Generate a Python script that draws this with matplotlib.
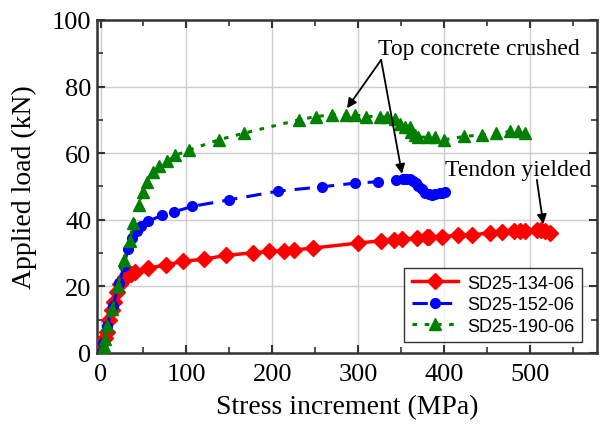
import matplotlib
matplotlib.use("Agg")
import matplotlib.pyplot as plt
from matplotlib.ticker import MultipleLocator

# Data
red_x = [0, 2, 5, 7, 10, 13, 15.5, 19.4, 23, 26, 29, 35, 40.7, 55.5, 76, 96, 121, 146, 178, 196, 214, 225, 247,
         300, 327, 342, 351, 369, 380, 383, 398, 416, 433, 453, 468, 481, 488, 494, 508, 513, 518, 523]
red_y = [0, 3, 4.5, 6.2, 10, 13, 15.2, 18.2, 20.7, 21.8, 22.7, 23.7, 24.4, 25.5, 26.4, 27.5, 28.2, 29.3, 30.1, 30.5, 30.7, 30.9, 31.5,
         33, 33.7, 34, 34.1, 34.5, 34.7, 34.8, 34.9, 35.4, 35.4, 36.1, 36.3, 36.5, 36.6, 36.7, 36.9, 36.8, 36.6, 36.0]

blue_x = [0, 3, 7.8, 14, 22, 27, 32, 37, 42.6, 47, 55, 72, 86, 106.6, 150, 207, 258, 296.5, 323, 344, 352, 356, 360,
          364, 367, 370, 374, 378, 382, 386, 390, 395, 398, 401]
blue_y = [0, 3, 8.2, 14, 21, 26, 31.2, 34.5, 36.7, 38.2, 39.5, 41.4, 42.4, 44, 46, 48.6, 49.9, 51, 51.4, 51.9, 52.2, 52.3, 52.1,
          51.7, 51, 50.2, 49.2, 48, 47.6, 47.5, 47.7, 48, 48.1, 48.2]

green_x = [0, 2, 3.9, 5, 8, 13.6, 20, 27, 34, 38, 44.6, 49, 54, 61, 68, 77, 87, 103.5, 137.6, 167, 231, 251, 269, 286, 296,
           309, 325, 334, 343, 349, 355, 360, 362, 366, 370, 381, 390, 400, 423, 444, 461, 477, 486, 494]
green_y = [0, 0.7, 2, 4.2, 8, 13.2, 20, 28, 33.7, 39, 44.4, 48.4, 51.2, 54.3, 56, 57.5, 59.3, 61, 64, 66, 70, 71, 71.5, 71.5, 71.5,
           71, 71, 70.8, 70.3, 68.8, 68, 67.8, 66.3, 65.5, 64.8, 64.8, 64.8, 64, 65, 65.5, 66, 66.5, 66.5, 66]

labels = ["SD25-134-06", "SD25-152-06", "SD25-190-06"]

serif = "Liberation Serif"
sans = "Liberation Sans"

fig = plt.figure(figsize=(6.03, 4.27), dpi=100)
ax = fig.add_axes([0.161, 0.171, 0.829, 0.780])

ax.plot(red_x, red_y, color="red", lw=2.5, ls="-", marker="D", ms=8, mec="red", label=labels[0], zorder=3)
ax.plot(blue_x, blue_y, color="blue", lw=2.2, ls=(0, (5, 3)), marker="o", ms=7, mec="blue", label=labels[1], zorder=3)
ax.plot(green_x, green_y, color="green", lw=2.2, ls=(0, (1.5, 2.5)), marker="^", ms=8.5, mec="green", label=labels[2], zorder=3)

ax.set_xlim(-4, 578)
ax.set_ylim(0, 100)
ax.xaxis.set_major_locator(MultipleLocator(100))
ax.xaxis.set_minor_locator(MultipleLocator(50))
ax.yaxis.set_major_locator(MultipleLocator(20))
ax.yaxis.set_minor_locator(MultipleLocator(10))
ax.grid(True, which="major", color="#cccccc", lw=1.0, zorder=0)
ax.set_axisbelow(True)

ax.tick_params(which="both", direction="in", top=True, right=True, color="#333333")
ax.tick_params(which="major", length=6, width=1.5, labelsize=19)
ax.tick_params(axis="x", which="major", pad=7)
ax.tick_params(axis="y", which="major", pad=4)
ax.tick_params(which="minor", length=4, width=1.2)
for lab in ax.get_xticklabels() + ax.get_yticklabels():
    lab.set_fontfamily(serif)
for sp in ax.spines.values():
    sp.set_linewidth(1.8)
    sp.set_color("#333333")

ax.set_xlabel("Stress increment (MPa)", fontsize=20, family=serif, labelpad=7)
ax.set_ylabel("Applied load (kN)", fontsize=20, family=serif, labelpad=11)

leg = ax.legend(loc="lower right", bbox_to_anchor=(0.97, 0.033), borderaxespad=0,
                prop={"family": sans, "size": 13},
                frameon=True, fancybox=False, edgecolor="black", handlelength=2.6,
                borderpad=0.4, labelspacing=0.25, handletextpad=0.5)
leg.get_frame().set_linewidth(1.0)

arrow = dict(arrowstyle="-|>", color="black", lw=1.3, mutation_scale=14, shrinkA=0, shrinkB=0)
ax.text(323, 89.8, "Top concrete crushed", fontsize=17, family=serif, ha="left", va="baseline")
ax.annotate("", xy=(287, 73.5), xytext=(326.7, 88.0), arrowprops=arrow)
ax.annotate("", xy=(351, 53.8), xytext=(326.7, 88.0), arrowprops=arrow)
ax.text(401, 53.5, "Tendon yielded", fontsize=17, family=serif, ha="left", va="baseline")
ax.annotate("", xy=(515.5, 38.7), xytext=(508, 52), arrowprops=arrow)

fig.savefig("out.png", dpi=100)
